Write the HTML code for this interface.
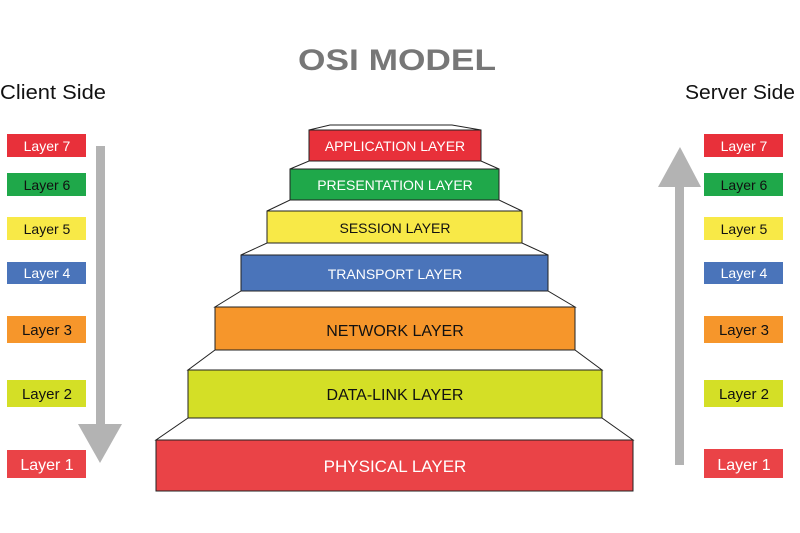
<!DOCTYPE html>
<html><head><meta charset="utf-8"><style>
html,body{margin:0;padding:0;background:#fff;}
svg{display:block}
text{font-family:"Liberation Sans",sans-serif;}
</style></head><body>
<svg width="800" height="533" viewBox="0 0 800 533" xmlns="http://www.w3.org/2000/svg">
<rect width="800" height="533" fill="#fff"/>
<text x="397" y="70" text-anchor="middle" font-size="30" font-weight="bold" fill="#777" textLength="198" lengthAdjust="spacingAndGlyphs">OSI MODEL</text>
<text x="0" y="99" font-size="20" fill="#111" textLength="106" lengthAdjust="spacingAndGlyphs">Client Side</text>
<text x="685" y="99" font-size="20" fill="#111" textLength="110" lengthAdjust="spacingAndGlyphs">Server Side</text>

<g stroke="#222" stroke-width="1">
<polygon points="330,125 452,125 481,130 309,130" fill="#fff"/>
<polygon points="309,161 481,161 499,169 290,169" fill="#fff"/>
<polygon points="290,200 499,200 522,211 267,211" fill="#fff"/>
<polygon points="267,243 522,243 548,255 241,255" fill="#fff"/>
<polygon points="241,291 548,291 575,307 215,307" fill="#fff"/>
<polygon points="215,350 575,350 602,370 188,370" fill="#fff"/>
<polygon points="188,418 602,418 633,440 156,440" fill="#fff"/>
<rect x="309" y="130" width="172" height="31" fill="#e8303a"/>
<rect x="290" y="169" width="209" height="31" fill="#1fa84a"/>
<rect x="267" y="211" width="255" height="32" fill="#f8e947"/>
<rect x="241" y="255" width="307" height="36" fill="#4a74ba"/>
<rect x="215" y="307" width="360" height="43" fill="#f6962b"/>
<rect x="188" y="370" width="414" height="48" fill="#d4df26"/>
<rect x="156" y="440" width="477" height="51" fill="#ea4347"/>
</g>
<g font-size="14" text-anchor="middle">
<text x="395" y="151" fill="#fff">APPLICATION LAYER</text>
<text x="395" y="190" fill="#fff">PRESENTATION LAYER</text>
<text x="395" y="233" fill="#111">SESSION LAYER</text>
<text x="395" y="279" fill="#fff">TRANSPORT LAYER</text>
<text x="395" y="336" font-size="16" fill="#111">NETWORK LAYER</text>
<text x="395" y="400" font-size="16" fill="#111">DATA-LINK LAYER</text>
<text x="395" y="472" font-size="17" fill="#fff">PHYSICAL LAYER</text>
</g>

<!-- left arrow -->
<rect x="96" y="146" width="9" height="279" fill="#b3b3b3"/>
<polygon points="78,424 122,424 100,463" fill="#b3b3b3"/>
<!-- right arrow -->
<rect x="675" y="186" width="9" height="279" fill="#b3b3b3"/>
<polygon points="658,187 701,187 680,147" fill="#b3b3b3"/>

<g font-size="14" text-anchor="middle">
<rect x="7" y="134" width="79" height="23" fill="#e8303a"/><text x="47" y="151" fill="#fff">Layer 7</text>
<rect x="7" y="173" width="79" height="23" fill="#1fa84a"/><text x="47" y="190" fill="#111">Layer 6</text>
<rect x="7" y="217" width="79" height="23" fill="#f8e947"/><text x="47" y="234" fill="#111">Layer 5</text>
<rect x="7" y="262" width="79" height="22" fill="#4a74ba"/><text x="47" y="278" fill="#fff">Layer 4</text>
<rect x="7" y="316" width="79" height="27" fill="#f6962b"/><text x="47" y="335" font-size="15" fill="#111">Layer 3</text>
<rect x="7" y="380" width="79" height="27" fill="#d4df26"/><text x="47" y="399" font-size="15" fill="#111">Layer 2</text>
<rect x="7" y="450" width="79" height="28" fill="#ea4347"/><text x="47" y="470" font-size="16" fill="#fff">Layer 1</text>

<rect x="704" y="134" width="79" height="23" fill="#e8303a"/><text x="744" y="151" fill="#fff">Layer 7</text>
<rect x="704" y="173" width="79" height="23" fill="#1fa84a"/><text x="744" y="190" fill="#111">Layer 6</text>
<rect x="704" y="217" width="79" height="23" fill="#f8e947"/><text x="744" y="234" fill="#111">Layer 5</text>
<rect x="704" y="262" width="79" height="22" fill="#4a74ba"/><text x="744" y="278" fill="#fff">Layer 4</text>
<rect x="704" y="316" width="79" height="27" fill="#f6962b"/><text x="744" y="335" font-size="15" fill="#111">Layer 3</text>
<rect x="704" y="380" width="79" height="27" fill="#d4df26"/><text x="744" y="399" font-size="15" fill="#111">Layer 2</text>
<rect x="704" y="449" width="79" height="29" fill="#ea4347"/><text x="744" y="470" font-size="16" fill="#fff">Layer 1</text>
</g>
</svg>
</body></html>
